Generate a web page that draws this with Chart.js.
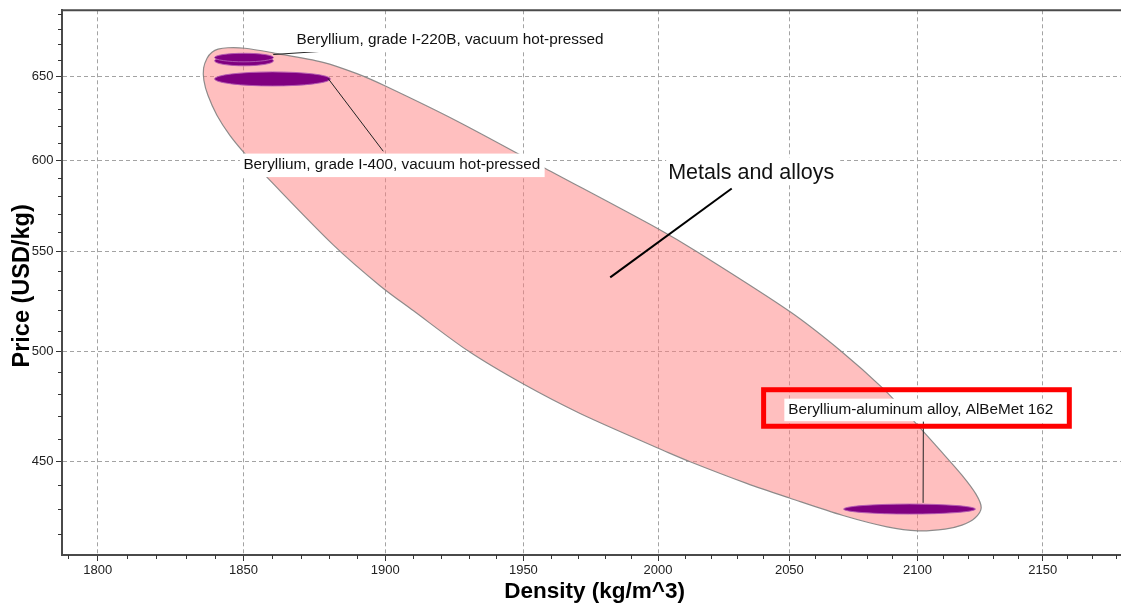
<!DOCTYPE html>
<html>
<head>
<meta charset="utf-8">
<script src="https://cdn.jsdelivr.net/npm/chart.js@4.4.1/dist/chart.umd.min.js"></script>
<style>
  html, body { margin: 0; padding: 0; background: #ffffff; }
  #wrap { width: 1121px; height: 608px; position: relative; }
  canvas { display: block; }
</style>
</head>
<body>
<div id="wrap"><canvas id="chart" width="1121" height="608" style="width:1121px;height:608px"></canvas></div>
<script>
// ---------- data ----------
const densityTicks = [1800, 1850, 1900, 1950, 2000, 2050, 2100, 2150];
const priceTicks = [450, 500, 550, 600, 650];
const densityMinorTicks = [1790, 1810, 1820, 1830, 1840, 1860, 1870, 1880, 1890, 1910, 1920, 1930, 1940,
  1960, 1970, 1980, 1990, 2010, 2020, 2030, 2040, 2060, 2070, 2080, 2090, 2110, 2120, 2130, 2140,
  2160, 2170, 2180];
const priceMinorTicks = [420, 430, 440, 460, 470, 480, 490, 510, 520, 530, 540, 560, 570, 580, 590,
  610, 620, 630, 640, 660, 670, 680, 690];

// "Metals and alloys" envelope boundary (density kg/m^3, price USD/kg)
const envelopeDensity = [2000.1, 1970.9, 1950.0, 1929.9, 1910.0, 1898.1, 1881.6, 1858.1, 1850.5, 1845.3,
  1840.8, 1837.7, 1836.3, 1836.2, 1837.4, 1839.1, 1841.2, 1844.6, 1850.5, 1860.3, 1877.9, 1889.9, 1900.6,
  1925.9, 1957.9, 2000.0, 2014.7, 2050.3, 2070.4, 2086.4, 2098.2, 2108.9, 2117.6, 2123.2, 2125.3, 2122.8,
  2117.6, 2110.9, 2100.2, 2088.0, 2070.8, 2050.3, 2033.6, 2012.1, 2000.1];
const envelopePrice = [455.8, 471.2, 484.6, 500.1, 519.8, 532.3, 553.3, 590.5, 603.8, 614.4,
  626.3, 638.3, 647.5, 655.0, 661.3, 665.0, 667.0, 667.9, 667.6, 664.7, 658.7, 651.6, 643.5,
  622.7, 595.4, 562.0, 549.8, 519.2, 499.7, 482.6, 468.2, 455.0, 444.3, 436.3, 430.7, 426.5,
  423.6, 422.0, 421.3, 422.9, 427.5, 434.6, 440.8, 450.0, 455.8];

// material property ranges (ellipses)
const materialNames = ['Beryllium, grade I-220B, vacuum hot-pressed (record 2)',
  'Beryllium, grade I-220B, vacuum hot-pressed',
  'Beryllium, grade I-400, vacuum hot-pressed',
  'Beryllium-aluminum alloy, AlBeMet 162'];
const densityLow  = [1840, 1840, 1840, 2071];
const densityHigh = [1860.5, 1860.5, 1880.5, 2123];
const priceLow    = [656.5, 659.0, 644.0, 428.1];
const priceHigh   = [662.8, 664.4, 652.7, 432.2];

// ---------- annotation layout (anchors in data units) ----------
const annotations = [
  { text: 'Beryllium, grade I-220B, vacuum hot-pressed', x: 1868.6, y: 670.6, size: 15.3,
    leader: [[1860.4, 663.6], [1878.0, 665.7]], leaderWidth: 1, pad: [3.5, 15, 4.5, 8.5] },
  { text: 'Beryllium, grade I-400, vacuum hot-pressed', x: 1850.0, y: 595.2, size: 15.3,
    leader: [[1879.7, 648.6], [1899.3, 605.1]], leaderWidth: 1, pad: [3.5, 15, 4.5, 8.5] },
  { text: 'Metals and alloys', x: 2003.8, y: 589.1, size: 21.5,
    leader: [[2027.9, 584.0], [1982.1, 536.5]], leaderWidth: 2, pad: [2, 22, 6, 5] },
  { text: 'Beryllium-aluminum alloy, AlBeMet 162', x: 2049.6, y: 470.9, size: 15.3,
    leader: [[2102.2, 432.7], [2102.3, 467.6]], leaderWidth: 1, pad: [4, 15.5, 3, 7],
    highlight: [2040.1, 2160.8, 465.5, 482.0] }
];

const FONT = "'Liberation Sans', Arial, Helvetica, sans-serif";

const overlayPlugin = {
  id: 'overlay',
  afterDatasetsDraw(chart) {
    const ctx = chart.ctx;
    const xs = chart.scales.x, ys = chart.scales.y;
    const area = chart.chartArea;
    ctx.save();
    ctx.beginPath();
    ctx.rect(area.left, area.top, area.right - area.left, area.bottom - area.top);
    ctx.clip();
    // ellipses
    for (let i = 0; i < materialNames.length; i++) {
      const x1 = xs.getPixelForValue(densityLow[i]), x2 = xs.getPixelForValue(densityHigh[i]);
      const y1 = ys.getPixelForValue(priceLow[i]), y2 = ys.getPixelForValue(priceHigh[i]);
      const cx = (x1 + x2) / 2, cy = (y1 + y2) / 2;
      const rx = Math.abs(x2 - x1) / 2, ry = Math.abs(y2 - y1) / 2;
      ctx.beginPath();
      ctx.ellipse(cx, cy, rx, ry, 0, 0, Math.PI * 2);
      ctx.fillStyle = '#800080';
      ctx.fill();
      ctx.lineWidth = 1;
      ctx.strokeStyle = 'rgba(178,90,178,0.9)';
      ctx.stroke();
    }
    // leaders
    for (const a of annotations) {
      ctx.beginPath();
      ctx.moveTo(xs.getPixelForValue(a.leader[0][0]), ys.getPixelForValue(a.leader[0][1]));
      ctx.lineTo(xs.getPixelForValue(a.leader[1][0]), ys.getPixelForValue(a.leader[1][1]));
      ctx.lineWidth = a.leaderWidth;
      ctx.strokeStyle = a.leaderWidth > 1 ? '#000' : '#222';
      ctx.stroke();
    }
    // labels with white boxes
    for (const a of annotations) {
      const px = xs.getPixelForValue(a.x), py = ys.getPixelForValue(a.y);
      ctx.font = a.size + 'px ' + FONT;
      const w = ctx.measureText(a.text).width;
      ctx.fillStyle = '#ffffff';
      ctx.fillRect(px - a.pad[0], py - a.pad[1], w + a.pad[0] + a.pad[2], a.pad[1] + a.pad[3]);
      ctx.fillStyle = '#111';
      ctx.textAlign = 'left';
      ctx.textBaseline = 'alphabetic';
      ctx.fillText(a.text, px, py);
      if (a.highlight) {
        const hx1 = xs.getPixelForValue(a.highlight[0]), hx2 = xs.getPixelForValue(a.highlight[1]);
        const hy1 = ys.getPixelForValue(a.highlight[3]), hy2 = ys.getPixelForValue(a.highlight[2]);
        ctx.lineWidth = 5;
        ctx.strokeStyle = '#ff0000';
        ctx.strokeRect(hx1, hy1, hx2 - hx1, hy2 - hy1);
      }
    }
    ctx.restore();
  },
  afterDraw(chart) {
    const ctx = chart.ctx;
    const xs = chart.scales.x, ys = chart.scales.y;
    const area = chart.chartArea;
    ctx.save();
    // top frame line
    ctx.beginPath();
    ctx.moveTo(area.left - 1, area.top);
    ctx.lineTo(area.right, area.top);
    ctx.lineWidth = 2;
    ctx.strokeStyle = '#4a4a4a';
    ctx.stroke();
    // minor ticks
    ctx.lineWidth = 1;
    ctx.strokeStyle = '#333';
    ctx.beginPath();
    for (const v of densityMinorTicks) {
      const p = Math.round(xs.getPixelForValue(v)) + 0.5;
      ctx.moveTo(p, area.bottom);
      ctx.lineTo(p, area.bottom + 4);
    }
    for (const v of priceMinorTicks) {
      const p = Math.round(ys.getPixelForValue(v)) + 0.5;
      ctx.moveTo(area.left - 4, p);
      ctx.lineTo(area.left, p);
    }
    ctx.stroke();
    ctx.restore();
  }
};

const envelopePoints = envelopeDensity.map((d, i) => ({ x: d, y: envelopePrice[i] }));

new Chart(document.getElementById('chart'), {
  type: 'scatter',
  data: {
    datasets: [{
      label: 'Metals and alloys',
      data: envelopePoints,
      showLine: true,
      fill: 'shape',
      tension: 0.3,
      pointRadius: 0,
      pointHoverRadius: 0,
      borderColor: 'rgba(130,130,130,0.9)',
      borderWidth: 1.2,
      backgroundColor: 'rgba(255,128,128,0.5)'
    }]
  },
  options: {
    responsive: false,
    animation: false,
    devicePixelRatio: 1,
    layout: { padding: { top: 10, right: 0, bottom: 0, left: 0 } },
    plugins: { legend: { display: false }, tooltip: { enabled: false }, title: { display: false } },
    scales: {
      x: {
        type: 'logarithmic',
        min: 1787.96, max: 2181.9,
        bounds: 'data',
        afterFit(s) { s.height = 53; },
        afterBuildTicks(s) { s.ticks = densityTicks.map(v => ({ value: v })); },
        ticks: {
          callback: v => String(v), autoSkip: false, maxRotation: 0, padding: 2,
          color: '#222', font: { family: FONT, size: 13 }
        },
        grid: { color: '#a3a3a3', lineWidth: 1, tickLength: 6, tickColor: '#333', tickWidth: 1 },
        border: { display: true, color: '#4a4a4a', width: 2, dash: [4, 3] },
        title: {
          display: true, text: ' Density (kg/m^3)', color: '#000',
          font: { family: FONT, size: 22.5, weight: 'bold', lineHeight: 1.2 },
          padding: { top: 0, bottom: 3 }
        }
      },
      y: {
        type: 'logarithmic',
        min: 411.7, max: 692.2,
        bounds: 'data',
        afterFit(s) { s.width = 62; },
        afterBuildTicks(s) { s.ticks = priceTicks.map(v => ({ value: v })); },
        ticks: {
          callback: v => String(v), autoSkip: false, padding: 2.5,
          color: '#222', font: { family: FONT, size: 13 }
        },
        grid: { color: '#a3a3a3', lineWidth: 1, tickLength: 6, tickColor: '#333', tickWidth: 1 },
        border: { display: true, color: '#4a4a4a', width: 2, dash: [4, 3] },
        title: {
          display: true, text: 'Price (USD/kg) ', color: '#000',
          font: { family: FONT, size: 23.5, weight: 'bold', lineHeight: 1.2 },
          padding: { top: 8.5, bottom: 0 }
        }
      }
    }
  },
  plugins: [overlayPlugin]
});
</script>
</body>
</html>
